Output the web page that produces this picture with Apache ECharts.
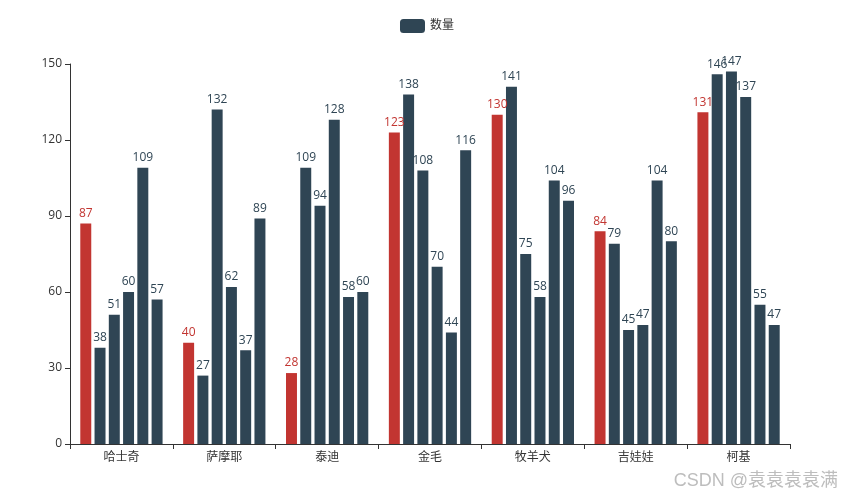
<!DOCTYPE html>
<html><head><meta charset="utf-8">
<script src="https://cdn.jsdelivr.net/npm/echarts@6/dist/echarts.min.js"></script>
<style>html,body{margin:0;padding:0;background:#fff}#c{width:854px;height:502px}</style>
</head><body><div id="c"></div>
<script>
const categories = ['哈士奇','萨摩耶','泰迪','金毛','牧羊犬','吉娃娃','柯基'];
const s1 = [87, 40, 28, 123, 130, 84, 131];
const s2 = [38, 27, 109, 138, 141, 79, 146];
const s3 = [51, 132, 94, 108, 75, 45, 147];
const s4 = [60, 62, 128, 70, 58, 47, 137];
const s5 = [109, 37, 58, 44, 104, 104, 55];
const s6 = [57, 89, 60, 116, 96, 80, 47];
const yTicks = [0, 30, 60, 90, 120, 150];

const font = '"Open Sans", "Noto Sans CJK SC", sans-serif';
const red = '#c23531', dark = '#2f4554';
function mk(name, data, color) {
  return {
    name: name, type: 'bar', data: data,
    barGap: '30%', barCategoryGap: '20%',
    itemStyle: { color: color },
    label: { show: true, position: 'top', color: color, fontSize: 12, fontFamily: font, distance: 4 }
  };
}
const chart = echarts.init(document.getElementById('c'), null, { renderer: 'canvas' });
chart.setOption({
  animation: false,
  textStyle: { fontFamily: font },
  legend: {
    data: ['数量'], top: 14, left: 'center', itemWidth: 25, itemHeight: 14, icon: 'roundRect',
    textStyle: { fontSize: 12, color: '#333', fontFamily: font }
  },
  grid: { left: 70, right: 64, top: 64, bottom: 58 },
  xAxis: {
    type: 'category', data: categories,
    axisLine: { lineStyle: { color: '#333' } },
    axisTick: { show: true, lineStyle: { color: '#333' } },
    axisLabel: { color: '#333', fontSize: 12, fontFamily: font, margin: 8 }
  },
  yAxis: {
    type: 'value', min: yTicks[0], max: yTicks[yTicks.length - 1], interval: 30,
    axisLine: { show: true, lineStyle: { color: '#333' } },
    axisTick: { show: true, lineStyle: { color: '#333' } },
    splitLine: { show: false },
    axisLabel: { color: '#333', fontSize: 12, fontFamily: font, margin: 8 }
  },
  series: [
    mk('s1', s1, red),
    mk('数量', s2, dark),
    mk('数量', s3, dark),
    mk('数量', s4, dark),
    mk('数量', s5, dark),
    mk('数量', s6, dark)
  ],
  graphic: [{
    type: 'text', right: 16, top: 472,
    style: { text: 'CSDN @袁袁袁袁满', fill: '#bdbdbd', fontSize: 18, fontFamily: '"Liberation Sans", "Noto Sans CJK SC", sans-serif' }
  }]
});
</script></body></html>
